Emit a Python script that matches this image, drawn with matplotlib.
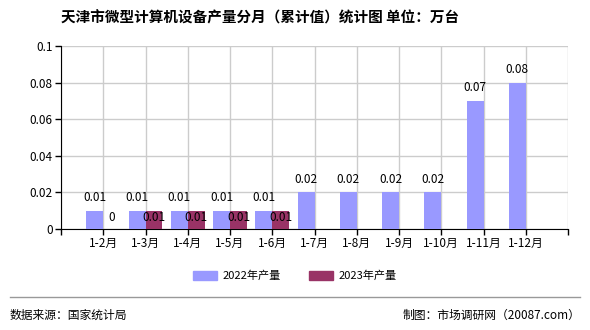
import matplotlib
matplotlib.use("Agg")
import matplotlib.pyplot as plt
from matplotlib.patches import Patch

plt.rcParams['font.family'] = ['Noto Sans CJK SC', 'DejaVu Sans']

months = ['1-2月', '1-3月', '1-4月', '1-5月', '1-6月', '1-7月',
          '1-8月', '1-9月', '1-10月', '1-11月', '1-12月']
output_2022 = [0.01, 0.01, 0.01, 0.01, 0.01, 0.02, 0.02, 0.02, 0.02, 0.07, 0.08]
output_2023 = [0, 0.01, 0.01, 0.01, 0.01]

c2022 = '#9999ff'
c2023 = '#993366'

fig = plt.figure(figsize=(5.9, 3.3), dpi=100)
ax = fig.add_axes([61 / 590, 1 - 229 / 330, 507 / 590, 183 / 330])

w = 0.4
x22 = list(range(len(output_2022)))
x23 = list(range(len(output_2023)))
ax.bar([x - w / 2 for x in x22], output_2022, width=w, color=c2022, zorder=3)
ax.bar([x + w / 2 for x in x23], output_2023, width=w, color=c2023, zorder=3)

for x, v in zip(x22, output_2022):
    ax.annotate(f'{v:g}', (x - w / 2, v), xytext=(0, 9.5), textcoords='offset points',
                ha='center', va='center', fontsize=8.5, zorder=4)
for x, v in zip(x23, output_2023):
    ax.annotate(f'{v:g}', (x + w / 2, 0), xytext=(0, 8), textcoords='offset points',
                ha='center', va='center', fontsize=8.5, zorder=4)

ax.set_xlim(-1, len(months))
ax.set_ylim(0, 0.1)
ax.set_xticks(range(-1, len(months) + 1))
ax.set_xticklabels([''] + months + [''], fontsize=8.5)
ax.set_yticks([0, 0.02, 0.04, 0.06, 0.08, 0.1])
ax.set_yticklabels(['0', '0.02', '0.04', '0.06', '0.08', '0.1'], fontsize=8.5)
ax.tick_params(length=4, width=1, pad=2)
ax.grid(True, color='#cccccc', linewidth=1, zorder=0)
ax.spines['top'].set_visible(False)
ax.spines['right'].set_visible(False)
ax.set_axisbelow(True)

fig.text(260 / 590, 1 - 17 / 330, '天津市微型计算机设备产量分月（累计值）统计图 单位：万台',
         ha='center', va='center', fontsize=10.5, fontweight='bold')

handles = [Patch(color=c2022, label='2022年产量'), Patch(color=c2023, label='2023年产量')]
fig.legend(handles=handles, loc='center', bbox_to_anchor=(295 / 590, 1 - 276 / 330),
           ncol=2, frameon=False, fontsize=8, handlelength=2.2, handleheight=0.9,
           columnspacing=2.5, handletextpad=0.5)

fig.add_artist(plt.Line2D([10 / 590, 580 / 590], [1 - 297 / 330] * 2,
                          color='#999999', linewidth=1, transform=fig.transFigure))
fig.text(10 / 590, 1 - 315 / 330, '数据来源：国家统计局', ha='left', va='center', fontsize=8.5)
fig.text(580 / 590, 1 - 315 / 330, '制图：市场调研网（20087.com）', ha='right', va='center', fontsize=8.5)

fig.savefig('out.png', dpi=100)
